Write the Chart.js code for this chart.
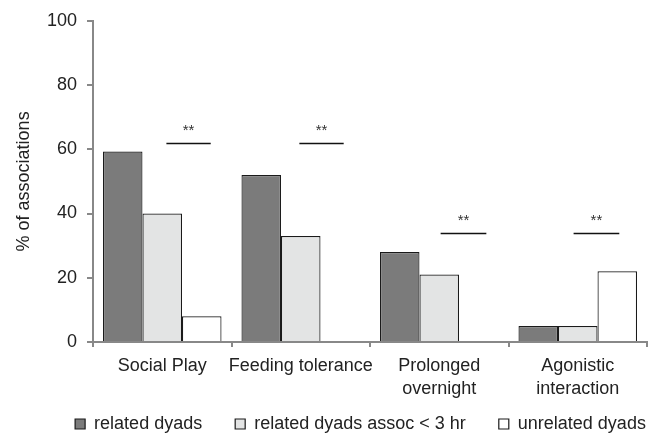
<!DOCTYPE html>
<html>
<head>
<meta charset="utf-8">
<script src="https://cdn.jsdelivr.net/npm/chart.js@4/dist/chart.umd.min.js"></script>
<style>
  body { margin: 0; background: #fff; }
  canvas { display: block; }
</style>
</head>
<body>
<canvas id="assocChart" width="657" height="434"></canvas>
<script>
const categories = ['Social Play', 'Feeding tolerance', ['Prolonged', 'overnight'], ['Agonistic', 'interaction']];
const relatedDyads = [59.3, 52, 28, 5];
const relatedShort = [40, 33, 21, 5];
const unrelatedDyads = [8, null, null, 22];
const yTicks = [0, 20, 40, 60, 80, 100];

// significance bars: category-unit start/end, height in % and label
const sigFrom = [0.03, 0.99, 2.01, 2.97];
const sigTo = [0.35, 1.31, 2.34, 3.30];
const sigLevel = [62, 62, 34, 34];
const sigLabel = ['**', '**', '**', '**'];

const textFont = '"Liberation Sans", Arial, Helvetica, sans-serif';

const sigPlugin = {
    id: 'sigBars',
    afterDatasetsDraw(chart) {
        const ctx = chart.ctx;
        const x = chart.scales.x;
        const y = chart.scales.y;
        ctx.save();
        sigLevel.forEach((lvl, i) => {
            const x1 = x.getPixelForValue(sigFrom[i]);
            const x2 = x.getPixelForValue(sigTo[i]);
            const py = Math.round(y.getPixelForValue(lvl)) + 0.5;
            ctx.strokeStyle = '#111';
            ctx.lineWidth = 1.5;
            ctx.beginPath();
            ctx.moveTo(x1, py);
            ctx.lineTo(x2, py);
            ctx.stroke();
            ctx.fillStyle = '#333';
            ctx.font = '15px ' + textFont;
            ctx.textAlign = 'center';
            ctx.textBaseline = 'alphabetic';
            ctx.fillText(sigLabel[i], (x1 + x2) / 2, py - 9);
        });
        ctx.restore();
    }
};

// legend sits a bit right of centre and close to the bottom edge
const legendFit = {
    id: 'legendFit',
    beforeInit(chart) {
        const fit = chart.legend.fit;
        chart.legend.fit = function () {
            fit.bind(chart.legend)();
            this.height = 52;
        };
    },
    afterLayout(chart) {
        chart.legend.left += 37;
        chart.legend.right += 37;
        // let the two-line tick labels run past the axis box
        chart.scales.x.bottom = chart.height;
    }
};

new Chart(document.getElementById('assocChart'), {
    type: 'bar',
    data: {
        labels: categories,
        datasets: [
            { label: 'related dyads', data: relatedDyads, backgroundColor: '#7b7b7b', borderColor: '#1a1a1a', borderWidth: 1.2 },
            { label: 'related dyads assoc < 3 hr', data: relatedShort, backgroundColor: '#e3e4e4', borderColor: '#1a1a1a', borderWidth: 1.2 },
            { label: 'unrelated dyads', data: unrelatedDyads, backgroundColor: '#ffffff', borderColor: '#1a1a1a', borderWidth: 1.2 }
        ]
    },
    options: {
        responsive: false,
        animation: false,
        layout: { padding: { top: 16, right: 10, left: 0, bottom: 0 } },
        datasets: { bar: { categoryPercentage: 0.856, barPercentage: 1 } },
        scales: {
            x: {
                grid: { display: true, drawOnChartArea: false, offset: true, tickLength: 5, color: '#888', lineWidth: 2 },
                border: { color: '#888', width: 2 },
                ticks: { color: '#222', padding: 7, maxRotation: 0, autoSkip: false, font: { family: textFont, size: 18, lineHeight: 1.3 } },
                afterFit(scale) { scale.height = 40; }
            },
            y: {
                min: 0,
                max: 100,
                afterBuildTicks(scale) { scale.ticks = yTicks.map(v => ({ value: v })); },
                grid: { display: true, drawOnChartArea: false, tickLength: 6, color: '#888', lineWidth: 2 },
                border: { color: '#888', width: 2 },
                ticks: { color: '#222', padding: 10, font: { family: textFont, size: 18 } },
                title: { display: true, text: '% of associations', color: '#222', padding: { top: 13, bottom: 0 }, font: { family: textFont, size: 18 } },
                afterFit(scale) { scale.width = 93; }
            }
        },
        plugins: {
            legend: {
                position: 'bottom',
                labels: { boxWidth: 10, boxHeight: 10, padding: 33, color: '#222', font: { family: textFont, size: 18 } }
            },
            tooltip: { enabled: false }
        }
    },
    plugins: [sigPlugin, legendFit]
});
</script>
</body>
</html>
